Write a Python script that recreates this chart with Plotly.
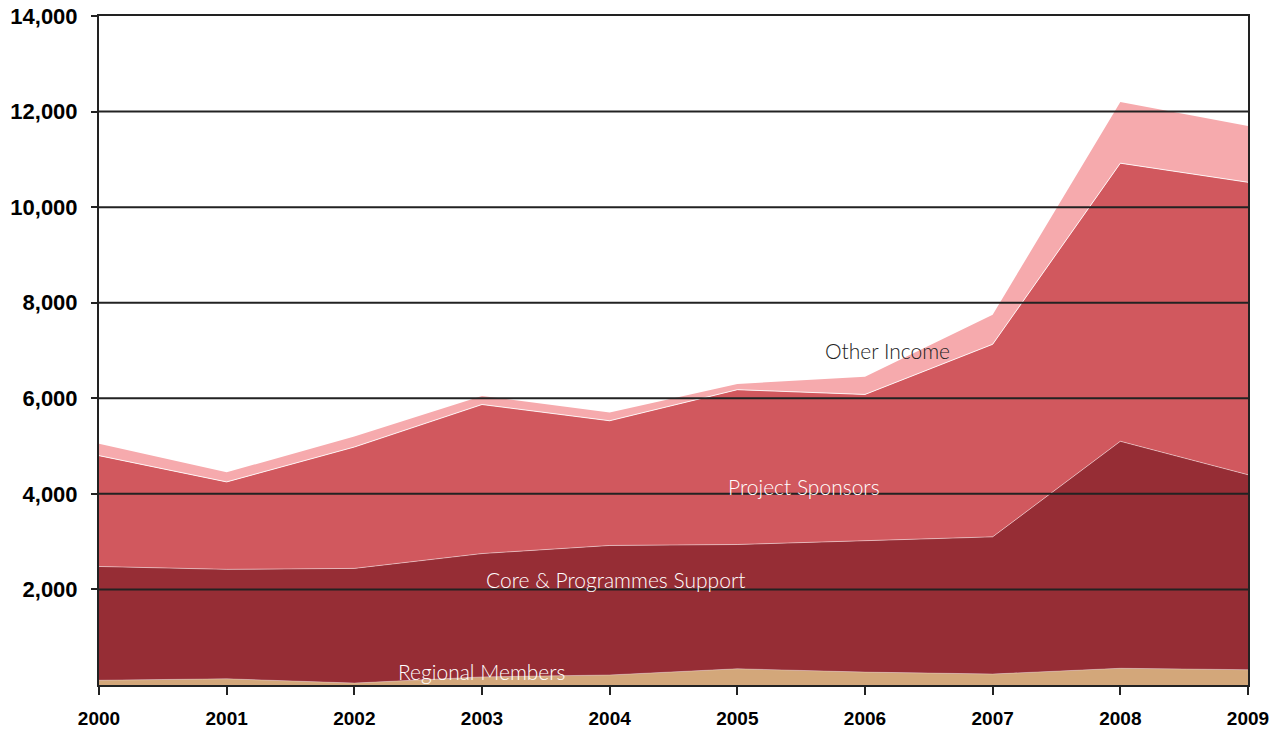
import plotly.graph_objects as go

years = [2000, 2001, 2002, 2003, 2004, 2005, 2006, 2007, 2008, 2009]
regional_members = [100, 130, 40, 170, 210, 340, 270, 230, 350, 320]
core_support = [2380, 2290, 2400, 2580, 2710, 2600, 2750, 2870, 4750, 4080]
project_sponsors = [2320, 1830, 2540, 3120, 2610, 3240, 3060, 4030, 5820, 6120]
other_income = [250, 200, 220, 180, 170, 120, 370, 620, 1280, 1180]

y_ticks = [2000, 4000, 6000, 8000, 10000, 12000, 14000]
y_tick_labels = ["2,000", "4,000", "6,000", "8,000", "10,000", "12,000", "14,000"]

series = [
    ("Regional Members", regional_members, "#D3A77A", "rgba(255,255,255,0.3)"),
    ("Core & Programmes Support", core_support, "#962D35", "rgba(255,255,255,0.45)"),
    ("Project Sponsors", project_sponsors, "#D1585E", "rgba(255,255,255,0.85)"),
    ("Other Income", other_income, "#F6AAAD", "rgba(255,255,255,0.0)"),
]

fig = go.Figure()
for name, vals, col, lc in series:
    fig.add_trace(go.Scatter(
        x=years, y=vals, name=name, stackgroup="one", mode="lines",
        line=dict(color=lc, width=1),
        fillcolor=col, hoverinfo="x+y+name",
    ))

# label annotations
labels = [
    ("Other Income", 2006.18, 6990, "#222222"),
    ("Project Sponsors", 2005.52, 4160, "#FFFFFF"),
    ("Core & Programmes Support", 2004.05, 2200, "#FFFFFF"),
    ("Regional Members", 2003.0, 290, "#FFFFFF"),
]
annotations = [
    dict(x=x, y=y, text=t, showarrow=False, xref="x", yref="y",
         font=dict(family="Lato", size=21, color=c, weight=300))
    for t, x, y, c in labels
]

shapes = [
    dict(type="line", xref="paper", yref="y", x0=0, x1=1, y0=v, y1=v,
         line=dict(color="#222222", width=2), layer="above")
    for v in y_ticks[:-1]
]

fig.update_layout(
    width=1279, height=729,
    margin=dict(l=99, r=31, t=16, b=44),
    paper_bgcolor="white", plot_bgcolor="white",
    showlegend=False,
    annotations=annotations,
    shapes=shapes,
    xaxis=dict(
        range=[2000, 2009], tickvals=years, ticktext=[str(y) for y in years],
        showgrid=False, zeroline=False, automargin=False,
        showline=True, linecolor="#222222", linewidth=2, mirror=True,
        ticks="outside", ticklen=8, tickwidth=2, tickcolor="#222222",
        ticklabelstandoff=7,
        tickfont=dict(family="Liberation Sans", size=19, color="#000000", weight="bold"),
        layer="above traces",
    ),
    yaxis=dict(
        range=[0, 14000], tickvals=y_ticks, ticktext=y_tick_labels,
        showgrid=False, zeroline=False, automargin=False,
        showline=True, linecolor="#222222", linewidth=2, mirror=True,
        ticks="outside", ticklen=6, tickwidth=2, tickcolor="#222222",
        ticklabelstandoff=9,
        tickfont=dict(family="Liberation Sans", size=22, color="#000000", weight="bold"),
        layer="above traces",
    ),
)

fig.write_html("out.html")
